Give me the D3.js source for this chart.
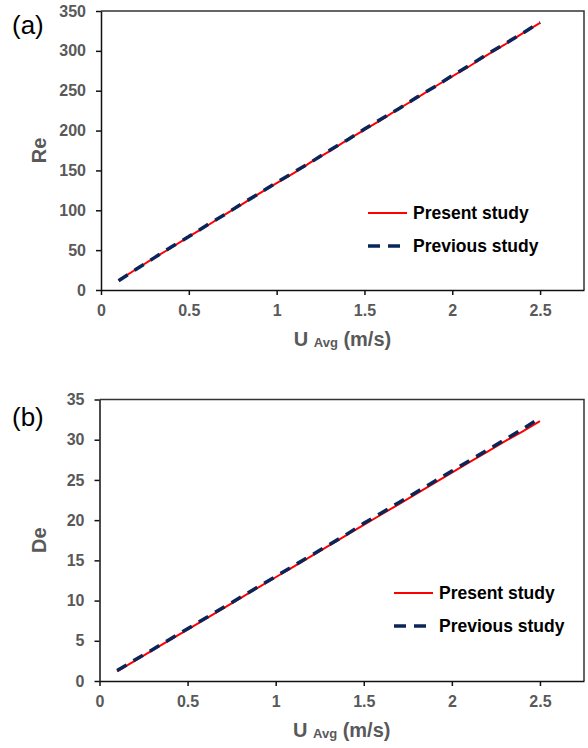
<!DOCTYPE html>
<html>
<head>
<meta charset="utf-8">
<script src="https://cdn.jsdelivr.net/npm/d3@7"></script>
<style>
  body { margin: 0; background: #fff; }
  svg { display: block; font-family: Arial, "Liberation Sans", sans-serif; }
</style>
</head>
<body>
<svg id="chart"></svg>
<script>
// Width and height for the SVG
const width = 588,
    height = 748;

// data
const uAvg = [0.1, 0.2, 0.3, 0.4, 0.5, 0.6, 0.7, 0.8, 0.9, 1.0, 1.1, 1.2, 1.3,
    1.4, 1.5, 1.6, 1.7, 1.8, 1.9, 2.0, 2.1, 2.2, 2.3, 2.4, 2.5];
const rePresent = [12, 26, 40, 53, 67, 80, 94, 107, 121, 134, 147, 161, 174,
    188, 201, 214, 228, 241, 255, 268, 281, 295, 308, 322, 335];
const rePrevious = [11.5, 26, 40, 54, 67, 81, 94, 108, 121, 135, 148, 161, 175,
    188, 202, 215, 228, 242, 255, 269, 282, 296, 309, 322, 336];
const dePresent = [1.2, 2.5, 3.8, 5.1, 6.4, 7.7, 9.0, 10.3, 11.6, 12.9, 14.2, 15.5, 16.8,
    18.1, 19.4, 20.7, 22.0, 23.3, 24.6, 25.9, 27.2, 28.5, 29.8, 31.0, 32.3];
const dePrevious = [1.3, 2.6, 3.9, 5.2, 6.5, 7.8, 9.1, 10.4, 11.7, 13.0, 14.3, 15.6, 16.9,
    18.2, 19.6, 20.9, 22.2, 23.5, 24.8, 26.1, 27.4, 28.7, 30.0, 31.3, 32.7];
const xTicks = [0, 0.5, 1, 1.5, 2, 2.5];
const reTicks = [0, 50, 100, 150, 200, 250, 300, 350];
const deTicks = [0, 5, 10, 15, 20, 25, 30, 35];
const seriesNames = ["Present study", "Previous study"];

const red = "#ff0000",
    navy = "#0b2559",
    grey = "#595959";

const svg = d3.select("#chart")
    .attr("width", width)
    .attr("height", height);

const panels = [
    { label: "(a)", ytitle: "Re", present: rePresent, previous: rePrevious, ymax: 350, yticks: reTicks,
      top: 11, bottom: 290, left: 101, right: 584, labelY: 34, legX: 368, legY: 213 },
    { label: "(b)", ytitle: "De", present: dePresent, previous: dePrevious, ymax: 35, yticks: deTicks,
      top: 399.5, bottom: 681, left: 99.5, right: 584, labelY: 426, legX: 394, legY: 593 }
];

panels.forEach(drawPanel);

function drawPanel(p) {
    const x = d3.scaleLinear().domain([0, 2.75]).range([p.left, p.right]);
    const y = d3.scaleLinear().domain([0, p.ymax]).range([p.bottom, p.top]);

    const g = svg.append("g");

    // plot box (top and right)
    g.append("path")
        .attr("d", `M${p.left},${p.top}H${p.right}V${p.bottom}`)
        .attr("fill", "none")
        .attr("stroke", "#333")
        .attr("stroke-width", 1.5);

    const xAxis = g.append("g")
        .attr("transform", `translate(0,${p.bottom})`)
        .call(d3.axisBottom(x).tickValues(xTicks).tickFormat(d => String(d))
            .tickSize(5).tickSizeOuter(0).tickPadding(10));
    const yAxis = g.append("g")
        .attr("transform", `translate(${p.left},0)`)
        .call(d3.axisLeft(y).tickValues(p.yticks).tickFormat(d => String(d))
            .tickSize(5).tickSizeOuter(0).tickPadding(10));

    [xAxis, yAxis].forEach(a => {
        a.select(".domain").attr("stroke", "#111").attr("stroke-width", 1.5);
        a.selectAll(".tick line").attr("stroke", "#111").attr("stroke-width", 1.5);
        a.selectAll(".tick text")
            .attr("fill", grey)
            .style("font-size", "16px")
            .style("font-weight", "bold");
    });

    const line = d3.line()
        .x((d, i) => x(uAvg[i]))
        .y(d => y(d));

    g.append("path")
        .datum(p.present)
        .attr("d", line)
        .attr("fill", "none")
        .attr("stroke", red)
        .attr("stroke-width", 2);

    g.append("path")
        .datum(p.previous)
        .attr("d", line)
        .attr("fill", "none")
        .attr("stroke", navy)
        .attr("stroke-width", 3.5)
        .attr("stroke-dasharray", "11,8");

    // panel label
    g.append("text")
        .attr("x", 12)
        .attr("y", p.labelY)
        .style("font-size", "26px")
        .attr("fill", "#000")
        .text(p.label);

    // y title
    g.append("text")
        .attr("transform", `translate(46,${(p.top + p.bottom) / 2}) rotate(-90)`)
        .attr("text-anchor", "middle")
        .attr("fill", grey)
        .style("font-size", "20px")
        .style("font-weight", "bold")
        .text(p.ytitle);

    // x title
    const xt = g.append("text")
        .attr("x", (p.left + p.right) / 2)
        .attr("y", p.bottom + 56)
        .attr("text-anchor", "middle")
        .attr("fill", grey)
        .style("font-weight", "bold");
    xt.append("tspan").style("font-size", "20px").text("U ");
    xt.append("tspan").style("font-size", "13px").attr("dy", 1).text("Avg");
    xt.append("tspan").style("font-size", "20px").attr("dy", -1).text(" (m/s)");

    // legend
    const leg = g.append("g").attr("transform", `translate(${p.legX},${p.legY})`);
    leg.append("line")
        .attr("x1", 0).attr("x2", 39)
        .attr("stroke", red).attr("stroke-width", 2);
    leg.append("line")
        .attr("x1", 0).attr("x2", 32).attr("y1", 33).attr("y2", 33)
        .attr("stroke", navy).attr("stroke-width", 3.5)
        .attr("stroke-dasharray", "12,8");
    leg.selectAll("text.leg")
        .data(seriesNames)
        .enter()
        .append("text")
        .attr("class", "leg")
        .attr("x", 45)
        .attr("y", (d, i) => 6 + i * 33)
        .attr("fill", "#000")
        .style("font-size", "17.5px")
        .style("font-weight", "bold")
        .text(d => d);
}
</script>
</body>
</html>
